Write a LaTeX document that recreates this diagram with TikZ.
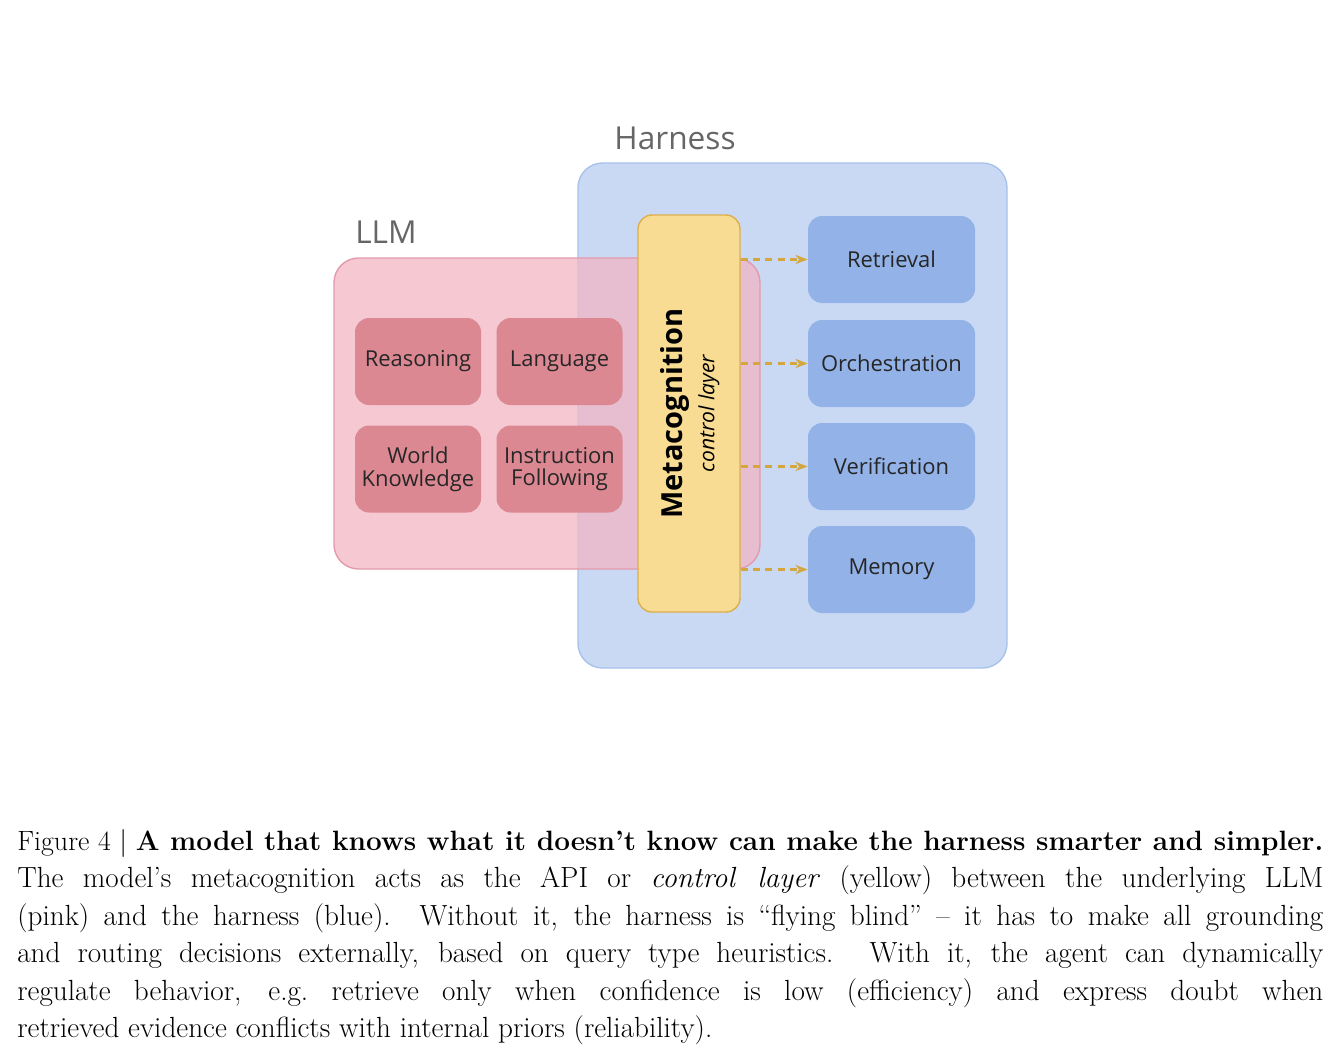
\documentclass[tikz,border=0pt]{standalone}
\usepackage{fontspec}
\usepackage{xcolor}
\newfontfamily\diagfont{Open Sans}
\usetikzlibrary{shapes,arrows,arrows.meta,positioning,fit,backgrounds}
\definecolor{harnessfill}{HTML}{C9D9F4}
\definecolor{harnessline}{HTML}{A8C2EC}
\definecolor{llmfill}{HTML}{F2B6C4}
\definecolor{llmline}{HTML}{E49AAE}
\definecolor{skillfill}{HTML}{DC8893}
\definecolor{toolfill}{HTML}{93B3E8}
\definecolor{metafill}{HTML}{F8DC94}
\definecolor{metaline}{HTML}{DDAE4A}
\definecolor{arrowcol}{HTML}{D4A63E}
\begin{document}
\begin{tikzpicture}[x=0.02cm, y=-0.02cm]
            \tikzstyle{skill} = [rectangle, rounded corners=8pt, fill=skillfill, minimum width=126*0.02cm, minimum height=87*0.02cm, align=center, font=\diagfont\fontsize{12.5}{15}\selectfont, text=black!85]
            \tikzstyle{tool} = [rectangle, rounded corners=8pt, fill=toolfill, minimum width=167*0.02cm, minimum height=87*0.02cm, font=\diagfont\fontsize{12.5}{15}\selectfont, text=black!85]
            \tikzstyle{title} = [font=\diagfont\fontsize{18}{22}\selectfont, text=black!60]
            \tikzstyle{arrow} = [very thick, dash pattern=on 4pt off 3pt, -{Stealth[length=7pt]}, arrowcol]

            \useasboundingbox [fill=white] (0,0) rectangle (1344,1055);

            \node [draw=harnessline, thick, fill=harnessfill, rounded corners=14pt, minimum width=429*0.02cm, minimum height=505*0.02cm] (harness) at (792.5,415.5) {};
            \node [title] (harnesslabel) at (675,138) {Harness};
            \node [draw=llmline, thick, fill=llmfill, fill opacity=0.75, rounded corners=14pt, minimum width=426*0.02cm, minimum height=311*0.02cm] (llm) at (547,413.5) {};
            \node [title] (llmlabel) at (386,232) {LLM};

            \node [skill] (reasoning) at (418,361.5) {Reasoning};
            \node [skill] (language) at (559.5,361.5) {Language};
            \node [skill] (world) at (418,469) {World\\[-2pt]Knowledge};
            \node [skill] (instruction) at (559.5,469) {Instruction\\[-2pt]Following};

            \node [draw=metaline, thick, fill=metafill, rounded corners=8pt, minimum width=102*0.02cm, minimum height=397*0.02cm] (meta) at (689,413.5) {};
            \node [rotate=90, font=\diagfont\bfseries\fontsize{16.5}{20}\selectfont] (metatitle) at (675,413.5) {Metacognition};
            \node [rotate=90, font=\diagfont\itshape\fontsize{12}{14}\selectfont] (metasub) at (709,413.5) {control layer};

            \node [tool] (retrieval) at (891.5,259.5) {Retrieval};
            \node [tool] (orchestration) at (891.5,363.5) {Orchestration};
            \node [tool] (verification) at (891.5,466.5) {Verification};
            \node [tool] (memory) at (891.5,569.5) {Memory};

            \foreach \t in {retrieval, orchestration, verification, memory}
                \draw [arrow] (meta.east |- \t.west) -- (\t.west);

            \node [anchor=north west, text width=1306*0.02cm, align=justify, inner sep=0pt, font=\fontsize{16.6}{21.3}\selectfont] (caption) at (17,829)
            {\makebox[\linewidth][s]{\fontsize{15.9}{21.3}\selectfont Figure 4 | \textbf{A model that knows what it doesn't know can make the harness smarter and simpler.}}\linebreak The model's metacognition acts as the API or \emph{control layer} (yellow) between the underlying LLM\linebreak (pink) and the harness (blue). Without it, the harness is ``flying blind'' -- it has to make all grounding\linebreak and routing decisions externally, based on query type heuristics. With it, the agent can dynamically\linebreak regulate behavior, e.g.\ retrieve only when confidence is low (efficiency) and express doubt when\linebreak retrieved evidence conflicts with internal priors (reliability).};
        \end{tikzpicture}
\end{document}
